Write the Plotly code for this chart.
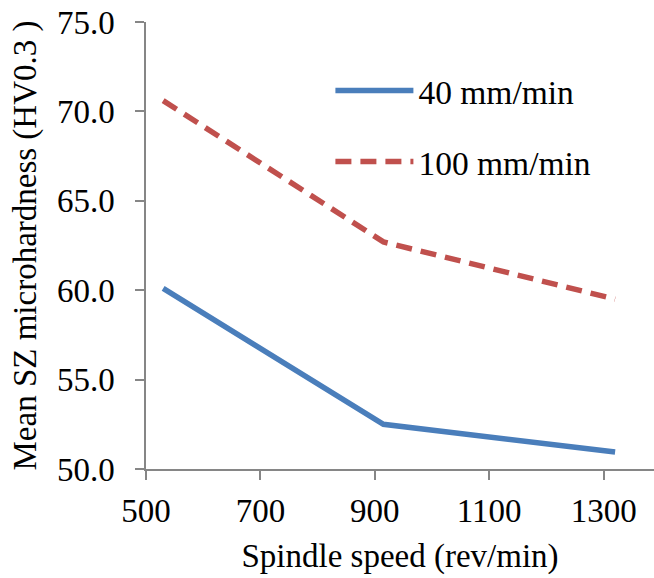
import plotly.graph_objects as go

# Spindle speed (rev/min) and mean stir-zone microhardness (HV0.3)
speed = [530, 915, 1320]
hv_40 = [60.1, 52.5, 50.95]
hv_100 = [70.6, 62.7, 59.5]

x_ticks = [500, 700, 900, 1100, 1300]
y_ticks = [50, 55, 60, 65, 70, 75]

FONT = "Liberation Serif, Times New Roman, serif"
AXIS_GREY = "#868686"

fig = go.Figure()
fig.add_trace(go.Scatter(
    x=speed, y=hv_40, mode="lines", name="40 mm/min",
    line=dict(color="#4A7EBB", width=5.5), legend="legend", showlegend=True,
))
fig.add_trace(go.Scatter(
    x=speed, y=hv_100, mode="lines", name="100 mm/min",
    line=dict(color="#C0504D", width=5.5, dash="16px,9px"), legend="legend2", showlegend=True,
))

axis_common = dict(
    showgrid=False, zeroline=False, showline=True,
    linecolor=AXIS_GREY, linewidth=1.5,
    ticks="outside", ticklen=9, tickwidth=1.5, tickcolor=AXIS_GREY,
    tickfont=dict(family=FONT, size=33, color="black"),
)

legend_common = dict(
    x=0.363, xanchor="left", yanchor="middle",
    bgcolor="rgba(0,0,0,0)", itemwidth=78,
    font=dict(family=FONT, size=33.5, color="black"),
)

fig.update_layout(
    width=654, height=578,
    margin=dict(l=146, r=0, t=22, b=109),
    paper_bgcolor="white", plot_bgcolor="white",
    font=dict(family=FONT, size=33, color="black"),
    showlegend=True,
    xaxis=dict(
        range=[500, 1388], tickvals=x_ticks,
        ticktext=[str(v) for v in x_ticks],
        title=dict(text="Spindle speed (rev/min)", font=dict(family=FONT, size=33), standoff=16),
        ticklabelstandoff=3,
        **axis_common,
    ),
    yaxis=dict(
        range=[50, 75], tickvals=y_ticks,
        ticktext=[f"{v:.1f}" for v in y_ticks],
        title=dict(text="Mean SZ microhardness (HV0.3 )", font=dict(family=FONT, size=33), standoff=10),
        ticklabelstandoff=14,
        **axis_common,
    ),
    legend=dict(y=0.846, **legend_common),
    legend2=dict(y=0.6875, **legend_common),
)

fig.write_html("out.html")
